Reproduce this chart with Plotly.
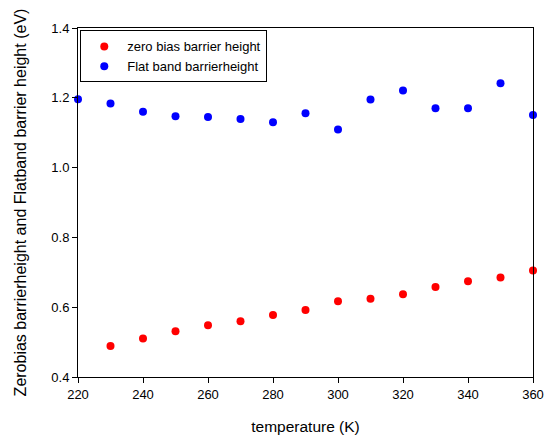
import plotly.graph_objects as go

temps_zero = [230, 240, 250, 260, 270, 280, 290, 300, 310, 320, 330, 340, 350, 360]
zero_bias = [0.489, 0.510, 0.531, 0.548, 0.560, 0.578, 0.592, 0.617, 0.624, 0.637, 0.658, 0.674, 0.685, 0.705]

temps_flat = [220, 230, 240, 250, 260, 270, 280, 290, 300, 310, 320, 330, 340, 350, 360]
flat_band = [1.196, 1.184, 1.160, 1.147, 1.145, 1.139, 1.130, 1.156, 1.109, 1.195, 1.221, 1.170, 1.170, 1.242, 1.151]

x_ticks = [220, 240, 260, 280, 300, 320, 340, 360]
y_ticks = [0.4, 0.6, 0.8, 1.0, 1.2, 1.4]

fig = go.Figure()
fig.add_trace(go.Scatter(x=temps_zero, y=zero_bias, mode="markers",
                         name="zero bias barrier height",
                         marker=dict(color="#ff0000", size=8), cliponaxis=False))
fig.add_trace(go.Scatter(x=temps_flat, y=flat_band, mode="markers",
                         name="Flat band barrierheight",
                         marker=dict(color="#0000ff", size=8), cliponaxis=False))

axis_common = dict(showgrid=False, zeroline=False, showline=True, linecolor="black",
                   linewidth=1, mirror=True, ticks="outside", ticklen=5,
                   tickcolor="black", tickfont=dict(size=13, color="black"),
                   automargin=False)

fig.update_xaxes(range=[220, 360], tickvals=x_ticks, ticktext=[str(v) for v in x_ticks],
                 title=dict(text="temperature (K)", font=dict(size=15.5, color="black"), standoff=20),
                 **axis_common)
fig.update_yaxes(range=[0.4, 1.4], tickvals=y_ticks, ticktext=[f"{v:.1f}" for v in y_ticks],
                 title=dict(text="Zerobias barrierheight and Flatband barrier height (eV)",
                            font=dict(size=16, color="black"), standoff=20),
                 **axis_common)

fig.update_layout(
    width=548, height=440,
    margin=dict(l=78, r=15, t=28, b=63),
    plot_bgcolor="white", paper_bgcolor="white",
    font=dict(family="Liberation Sans, Arial, sans-serif", color="black"),
    showlegend=True,
    legend=dict(x=0.005, y=0.993, xanchor="left", yanchor="top",
                bordercolor="black", borderwidth=1, bgcolor="white",
                font=dict(size=13), itemwidth=36,
                tracegroupgap=0),
)

fig.write_html("out.html", config={"displayModeBar": False},
               post_script="document.body.style.margin='0';")
